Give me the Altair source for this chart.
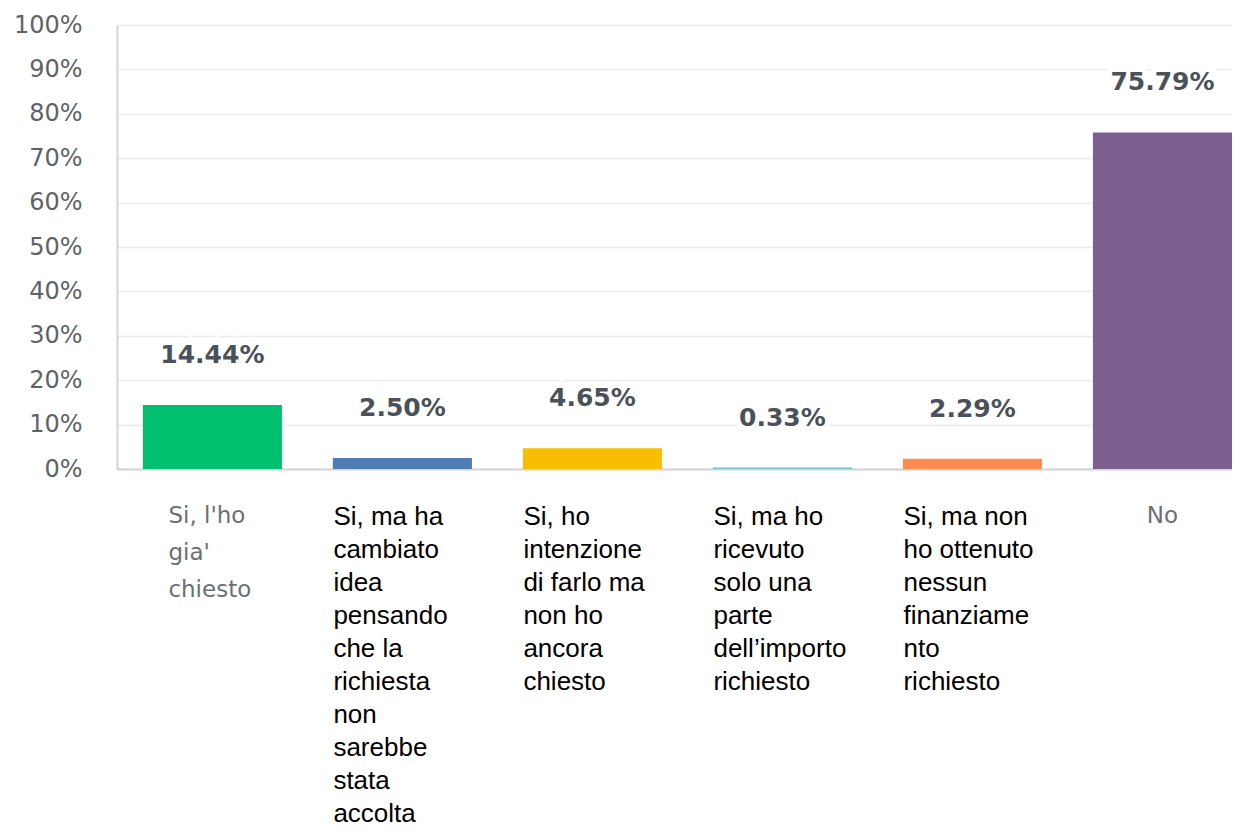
import altair as alt
import pandas as pd

categories = ["A", "B", "C", "D", "E", "F"]
labels = [
    "Si, l'ho\ngia'\nchiesto",
    "Si, ma ha\ncambiato\nidea\npensando\nche la\nrichiesta\nnon\nsarebbe\nstata\naccolta",
    "Si, ho\nintenzione\ndi farlo ma\nnon ho\nancora\nchiesto",
    "Si, ma ho\nricevuto\nsolo una\nparte\ndell\u2019importo\nrichiesto",
    "Si, ma non\nho ottenuto\nnessun\nfinanziame\nnto\nrichiesto",
    "No",
]
label_style = ["gray_left", "black", "black", "black", "black", "gray_center"]
values = [14.44, 2.50, 4.65, 0.33, 2.29, 75.79]
value_text = ["14.44%", "2.50%", "4.65%", "0.33%", "2.29%", "75.79%"]
colors = ["#00BF6F", "#507CB6", "#F9BE00", "#6BC8CD", "#FF8B4F", "#7D5E90"]

df = pd.DataFrame({
    "cat": categories,
    "label": labels,
    "style": label_style,
    "value": values,
    "vtext": value_text,
    "color": colors,
})

W, H = 1115, 444

x = alt.X("cat:N", sort=categories,
          scale=alt.Scale(paddingInner=0.268, paddingOuter=0.068, align=1),
          axis=alt.Axis(title=None, labels=False, ticks=False, domain=True,
                        domainColor="#d4d4d4", domainWidth=2, grid=False))
y = alt.Y("value:Q",
          scale=alt.Scale(domain=[0, 100], nice=False),
          axis=alt.Axis(title=None, values=list(range(0, 101, 10)),
                        labelExpr="datum.value + '%'", ticks=False,
                        labelPadding=35, labelFont="DejaVu Sans",
                        labelFontSize=24, labelColor="#5f6368",
                        domain=True, domainColor="#d4d4d4", domainWidth=2,
                        grid=True, gridColor="#ebebeb", gridWidth=1.5))

base = alt.Chart(df)

bars = base.mark_bar().encode(
    x=x, y=y, color=alt.Color("color:N", scale=None)
)

halo = base.mark_text(
    font="DejaVu Sans", fontSize=25, fontWeight="bold", dy=-50,
    baseline="middle", color="white", stroke="white", strokeWidth=10
).encode(x=x, y=y, text="vtext:N")

vlabels = base.mark_text(
    font="DejaVu Sans", fontSize=25, fontWeight="bold", dy=-50,
    baseline="middle", color="#4b5159"
).encode(x=x, y=y, text="vtext:N")

black_lbl = base.transform_filter("datum.style == 'black'").transform_calculate(
    lines="split(datum.label, '\\n')"
).mark_text(
    font="Liberation Sans", fontSize=26, lineHeight=33, align="left",
    baseline="top", dx=-69, color="#000000"
).encode(x=x, y=alt.value(H + 35), text="lines:N")

gray_left = base.transform_filter("datum.style == 'gray_left'").transform_calculate(
    lines="split(datum.label, '\\n')"
).mark_text(
    font="DejaVu Sans", fontSize=23, lineHeight=37, align="left",
    baseline="top", dx=-44, color="#6b6f73"
).encode(x=x, y=alt.value(H + 36), text="lines:N")

gray_center = base.transform_filter("datum.style == 'gray_center'").transform_calculate(
    lines="split(datum.label, '\\n')"
).mark_text(
    font="DejaVu Sans", fontSize=23, lineHeight=37, align="center",
    baseline="top", dx=0, color="#6b6f73"
).encode(x=x, y=alt.value(H + 36), text="lines:N")

chart = alt.layer(bars, halo, vlabels, black_lbl, gray_left, gray_center).properties(
    width=W, height=H,
    padding={"left": 5, "top": 5, "right": 0, "bottom": 0},
).configure_view(stroke=None).configure(background="white")

chart.save("out.html", embed_options={"renderer": "svg", "actions": False})
